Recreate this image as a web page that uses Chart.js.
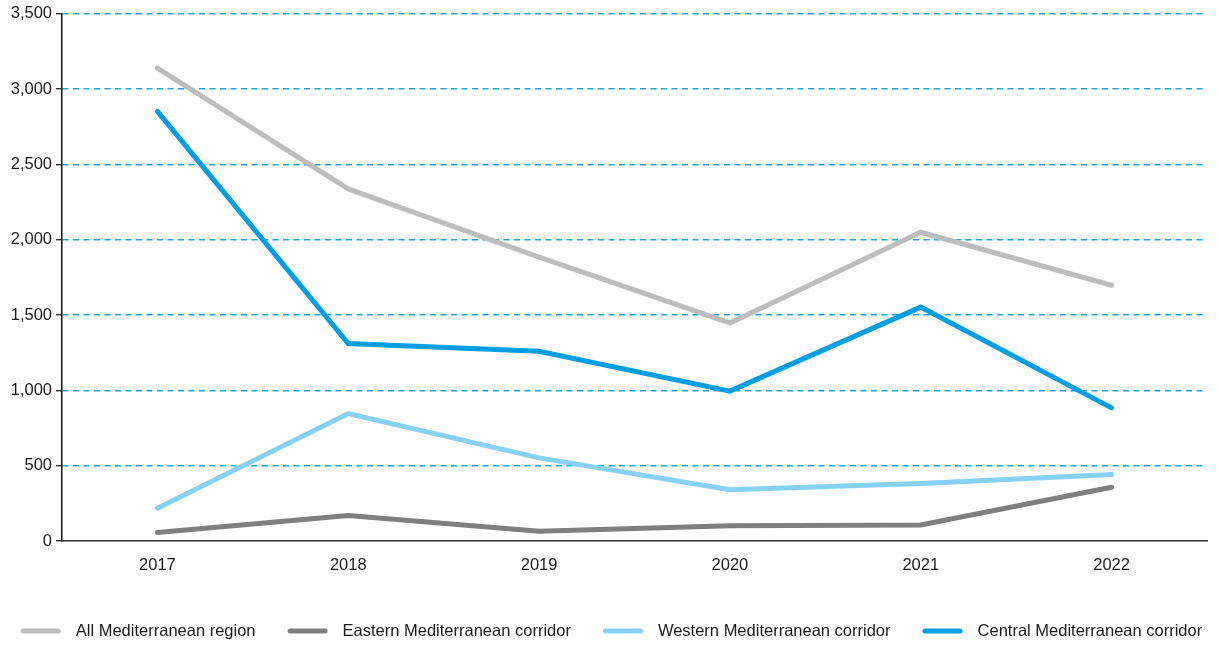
<!DOCTYPE html>
<html>
<head>
<meta charset="utf-8">
<script src="https://cdn.jsdelivr.net/npm/chart.js@4"></script>
<style>
  html, body { margin: 0; padding: 0; background: #fff; }
  #wrap { width: 1219px; height: 646px; position: relative; }
</style>
</head>
<body>
<div id="wrap"><canvas id="chart"></canvas></div>
<script>
// years along the x axis
const years = ['2017', '2018', '2019', '2020', '2021', '2022'];

// series values
const allMed = [3140, 2338, 1885, 1448, 2050, 1698];
const eastern = [57, 170, 65, 102, 106, 357];
const western = [218, 846, 552, 341, 381, 441];
const central = [2853, 1311, 1260, 995, 1553, 884];

const FONT = '"Liberation Sans", Arial, sans-serif';

function line(label, data, color) {
  return {
    label, data,
    borderColor: color, backgroundColor: color,
    borderWidth: 5, pointRadius: 0, pointHoverRadius: 0,
    borderCapStyle: 'round', borderJoinStyle: 'miter',
    tension: 0
  };
}

// one-row legend with short line swatches, centred under the chart
const bottomLegend = {
  id: 'bottomLegend',
  afterDraw(chart) {
    const ctx = chart.ctx;
    const sets = chart.data.datasets;
    const box = 40, gapText = 15, gapItem = 32, y = 631;
    ctx.save();
    ctx.font = '16.5px ' + FONT;
    const widths = sets.map(d => ctx.measureText(d.label).width);
    const total = widths.reduce((a, w) => a + box + gapText + w, 0) + gapItem * (sets.length - 1);
    let x = (chart.width - total) / 2 + 2;
    sets.forEach((d, i) => {
      ctx.strokeStyle = d.borderColor;
      ctx.lineWidth = 5;
      ctx.lineCap = 'round';
      ctx.beginPath();
      ctx.moveTo(x + 2.5, y);
      ctx.lineTo(x + box - 2.5, y);
      ctx.stroke();
      ctx.fillStyle = '#1a1a1a';
      ctx.textBaseline = 'middle';
      ctx.fillText(d.label, x + box + gapText, y);
      x += box + gapText + widths[i] + gapItem;
    });
    ctx.restore();
  }
};

new Chart(document.getElementById('chart').getContext('2d'), {
  type: 'line',
  data: {
    labels: years,
    datasets: [
      line('All Mediterranean region', allMed, '#bdbdbd'),
      line('Eastern Mediterranean corridor', eastern, '#7f7f7f'),
      line('Western Mediterranean corridor', western, '#87d1f4'),
      line('Central Mediterranean corridor', central, '#009fe3')
    ]
  },
  options: {
    responsive: true,
    maintainAspectRatio: false,
    animation: false,
    layout: { padding: { top: 6, right: 12, left: 0, bottom: 62.5 } },
    scales: {
      x: {
        offset: true,
        grid: { display: false, drawTicks: false },
        border: { display: true, color: '#333', width: 1.5 },
        ticks: { color: '#1a1a1a', font: { family: FONT, size: 16.5 }, padding: 15 },
        afterFit: s => { s.height = 42.5; }
      },
      y: {
        min: 0, max: 3500,
        grid: {
          color: ctx => ctx.tick && ctx.tick.value === 0 ? 'rgba(0,0,0,0)' : '#1ba3e2',
          lineWidth: 1.5,
          tickLength: 6,
          tickColor: '#111',
          tickWidth: 1.2
        },
        border: { display: true, color: '#111', width: 1.5, dash: [6, 4.5] },
        ticks: {
          stepSize: 500, color: '#1a1a1a', padding: 4,
          font: { family: FONT, size: 16.5 },
          callback: v => v.toLocaleString('en-US')
        },
        afterFit: s => { s.width = 62; }
      }
    },
    plugins: {
      tooltip: { enabled: false },
      legend: { display: false }
    }
  },
  plugins: [bottomLegend]
});
</script>
</body>
</html>
